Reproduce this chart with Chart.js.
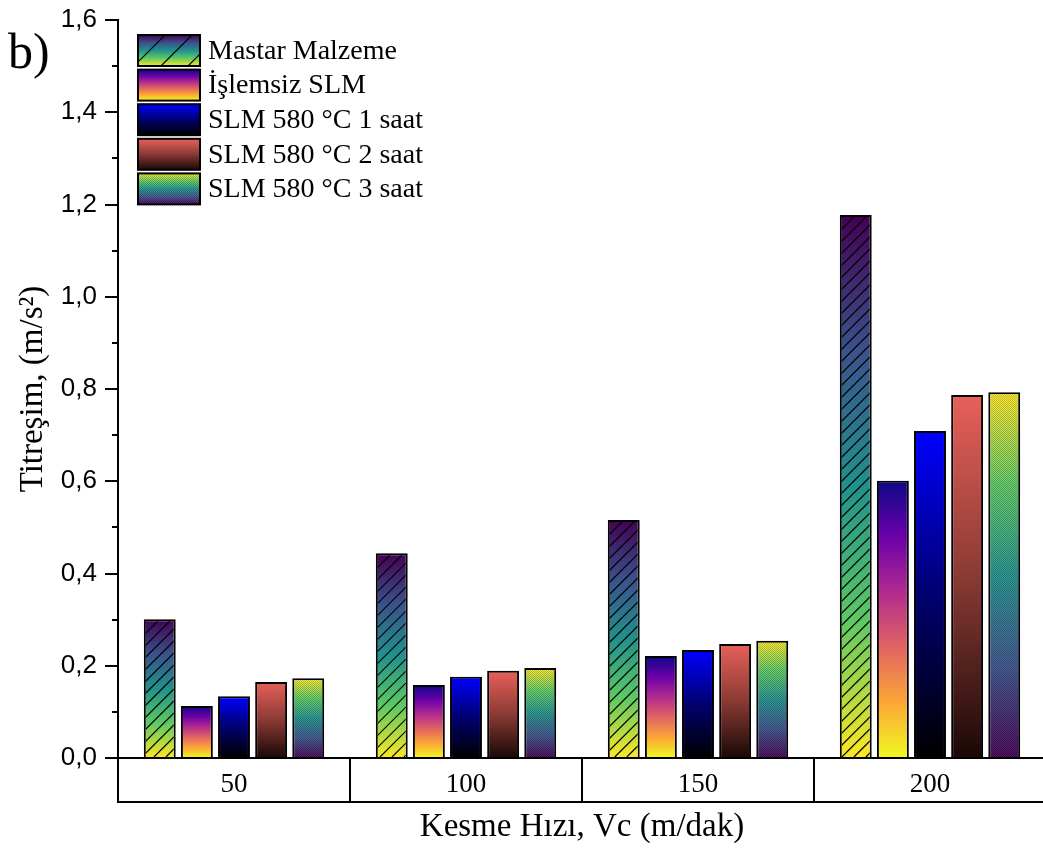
<!DOCTYPE html>
<html>
<head>
<meta charset="utf-8">
<script src="https://cdn.jsdelivr.net/npm/chart.js@4"></script>
<style>
    html, body { margin: 0; padding: 0; background: #fff; overflow: hidden; }
    canvas { display: block; }
</style>
</head>
<body>
<canvas id="vibChart" width="1046" height="856"></canvas>
<script>
// Data
const speeds = ["50", "100", "150", "200"];
const seriesNames = ["Mastar Malzeme", "İşlemsiz SLM", "SLM 580 °C 1 saat", "SLM 580 °C 2 saat", "SLM 580 °C 3 saat"];
const mastar = [0.301, 0.444, 0.516, 1.177];
const islemsiz = [0.113, 0.158, 0.221, 0.601];
const slm1 = [0.134, 0.176, 0.234, 0.709];
const slm2 = [0.165, 0.189, 0.247, 0.787];
const slm3 = [0.173, 0.195, 0.254, 0.793];
const yMin = 0;
const yMax = 1.6;
const yStep = 0.2;

// Gradient stops, bottom (0) to top (1)
const viridis = [[0, "#fde725"], [0.25, "#5ec962"], [0.5, "#21918c"], [0.75, "#3b528b"], [1, "#440154"]];
const plasma = [[0, "#f0f921"], [0.2, "#fca636"], [0.4, "#e16462"], [0.6, "#b12a90"], [0.8, "#6a00a8"], [1, "#0d0887"]];
const blues = [[0, "#000000"], [0.5, "#000070"], [1, "#0000ff"]];
const reds = [[0, "#1a0806"], [0.5, "#8a3a34"], [1, "#e8605a"]];
const viridisUp = viridis.map(s => [1 - s[0], s[1]]).reverse();
const gradients = [viridis, plasma, blues, reds, viridisUp];

const serif = "'Liberation Serif', 'Times New Roman', serif";
const sans = "'Liberation Sans', Arial, sans-serif";

function makeGradient(c, stops, yBottom, yTop) {
    const g = c.createLinearGradient(0, yBottom, 0, yTop);
    stops.forEach(s => g.addColorStop(s[0], s[1]));
    return g;
}

function barFill(idx) {
    return (ctx) => {
        const chart = ctx.chart;
        const stops = gradients[idx];
        const fallback = stops[Math.floor(stops.length / 2)][1];
        if (ctx.type !== "data" || !chart.scales.y) return fallback;
        const y = chart.scales.y;
        const b = y.getPixelForValue(0);
        const t = y.getPixelForValue(ctx.raw);
        if (!isFinite(b) || !isFinite(t) || b === t) return fallback;
        return makeGradient(chart.ctx, stops, b, t);
    };
}

// small dither pattern for the last series
const dither = document.createElement("canvas");
dither.width = 2;
dither.height = 2;
const dctx = dither.getContext("2d");
dctx.fillStyle = "rgba(0,0,0,0.18)";
dctx.fillRect(0, 0, 1, 1);
dctx.fillRect(1, 1, 1, 1);
dctx.fillStyle = "rgba(255,255,255,0.10)";
dctx.fillRect(1, 0, 1, 1);
dctx.fillRect(0, 1, 1, 1);

function drawHatch(c, left, top, w, h, spacing) {
    c.save();
    c.beginPath();
    c.rect(left, top, w, h);
    c.clip();
    c.strokeStyle = "#000";
    c.lineWidth = 1.2;
    c.beginPath();
    for (let o = -h; o < w + h; o += spacing) {
        c.moveTo(left + o, top + h);
        c.lineTo(left + o + h, top);
    }
    c.stroke();
    c.restore();
}

function drawDither(c, left, top, w, h) {
    c.save();
    c.fillStyle = c.createPattern(dither, "repeat");
    c.fillRect(left, top, w, h);
    c.restore();
}

// Hatching / texture on the bars
const texturePlugin = {
    id: "texture",
    afterDatasetsDraw(chart) {
        const c = chart.ctx;
        [0, 4].forEach(di => {
            chart.getDatasetMeta(di).data.forEach(bar => {
                const p = bar.getProps(["x", "y", "base", "width"], true);
                const left = p.x - p.width / 2 + 2;
                const w = p.width - 4;
                const top = p.y + 2;
                const h = p.base - p.y - 2;
                if (di === 0) drawHatch(c, left, top, w, h, 12);
                else drawDither(c, left, top, w, h);
            });
        });
    }
};

// Legend inside the plot, minor ticks, axis box and panel letter
const decorPlugin = {
    id: "decor",
    afterDraw(chart) {
        const c = chart.ctx;
        const area = chart.chartArea;
        const y = chart.scales.y;

        // minor ticks
        c.save();
        c.strokeStyle = "#000";
        c.lineWidth = 2;
        c.beginPath();
        for (let v = yMin + yStep / 2; v < yMax; v += yStep) {
            const py = Math.round(y.getPixelForValue(v));
            c.moveTo(area.left - 6, py);
            c.lineTo(area.left, py);
        }
        // bottom line of the category box
        c.moveTo(area.left - 1, area.bottom + 44);
        c.lineTo(area.right, area.bottom + 44);
        c.stroke();
        c.restore();

        // legend
        const sx = 138, sw = 62, sh = 31, rowH = 34.6, sy0 = 35;
        chart.data.datasets.forEach((ds, i) => {
            const top = sy0 + i * rowH;
            c.save();
            c.fillStyle = makeGradient(c, gradients[i], top + sh, top);
            c.fillRect(sx, top, sw, sh);
            if (i === 0) drawHatch(c, sx, top, sw, sh, 27);
            if (i === 4) drawDither(c, sx, top, sw, sh);
            c.strokeStyle = "#000";
            c.lineWidth = 2;
            c.strokeRect(sx, top, sw, sh);
            c.fillStyle = "#000";
            c.font = "28px " + serif;
            c.textBaseline = "middle";
            c.fillText(ds.label, 208, top + sh / 2 + 1);
            c.restore();
        });

        // panel letter
        c.save();
        c.fillStyle = "#000";
        c.font = "50px " + serif;
        c.textBaseline = "alphabetic";
        c.fillText("b)", 8, 68);
        c.restore();
    }
};

const datasets = [mastar, islemsiz, slm1, slm2, slm3].map((vals, i) => ({
    label: seriesNames[i],
    data: vals,
    backgroundColor: barFill(i),
    borderColor: "#000",
    borderWidth: 2,
    categoryPercentage: 0.8,
    barPercentage: 0.86
}));

const vibChart = new Chart(document.getElementById("vibChart"), {
    type: "bar",
    data: { labels: speeds, datasets: datasets },
    options: {
        responsive: false,
        animation: false,
        devicePixelRatio: 1,
        layout: { padding: { top: 20, left: 0, right: 0, bottom: 0 } },
        plugins: {
            legend: { display: false },
            tooltip: { enabled: false }
        },
        scales: {
            x: {
                afterFit: (s) => { s.height = 98; },
                grid: {
                    drawOnChartArea: false,
                    offset: true,
                    color: "#000",
                    lineWidth: 2,
                    tickLength: 44
                },
                border: { display: true, color: "#000", width: 2 },
                ticks: {
                    color: "#000",
                    font: { family: serif, size: 27 },
                    padding: -33
                },
                title: {
                    display: true,
                    text: "Kesme Hızı, Vc (m/dak)",
                    color: "#000",
                    font: { family: serif, size: 33 },
                    padding: { top: 0, bottom: 9 }
                }
            },
            y: {
                min: yMin,
                max: yMax,
                afterFit: (s) => { s.width = 118; s.paddingTop = 0; s.paddingBottom = 0; },
                grid: {
                    drawOnChartArea: false,
                    color: "#000",
                    lineWidth: 2,
                    tickLength: 13
                },
                border: { display: true, color: "#000", width: 2 },
                ticks: {
                    stepSize: yStep,
                    color: "#000",
                    font: { family: sans, size: 26 },
                    padding: 8,
                    callback: (v) => v.toFixed(1).replace(".", ",")
                },
                title: {
                    display: true,
                    text: "Titreşim, (m/s²)",
                    color: "#000",
                    font: { family: serif, size: 33 },
                    padding: { top: 14, bottom: 0 }
                }
            }
        }
    },
    plugins: [texturePlugin, decorPlugin]
});
</script>
</body>
</html>
